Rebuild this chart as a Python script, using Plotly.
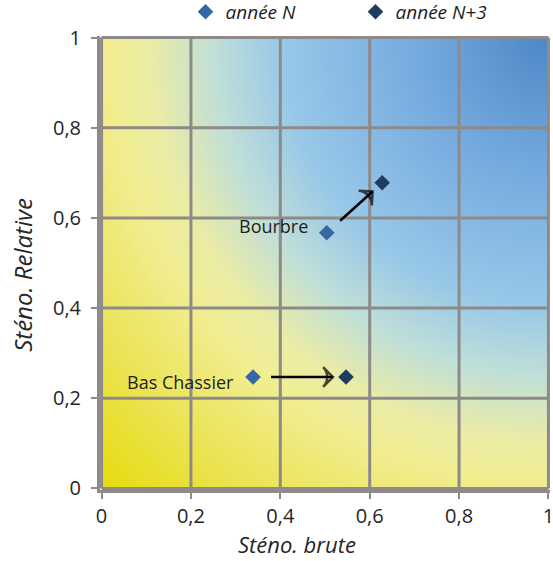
import numpy as np
import plotly.graph_objects as go

# --- data -------------------------------------------------------------
sites = ["Bourbre", "Bas Chassier"]
steno_brute_n = [0.504, 0.339]
steno_rel_n = [0.567, 0.247]
steno_brute_n3 = [0.628, 0.547]
steno_rel_n3 = [0.678, 0.247]

tick_vals = [0, 0.2, 0.4, 0.6, 0.8, 1]
tick_text = ["0", "0,2", "0,4", "0,6", "0,8", "1"]

series_names = ["année N", "année N+3"]
series_colors = ["#3468a5", "#1f3c61"]

# --- layout geometry ----------------------------------------------------
W, H = 553, 561
M_L, M_R, M_T, M_B = 100, 3, 36, 71
PAD = 0.0035
RANGE = [-PAD, 1 + PAD]
px_x = (W - M_L - M_R) / (RANGE[1] - RANGE[0])
px_y = (H - M_T - M_B) / (RANGE[1] - RANGE[0])

GRID = "#8e8a8a"
FONT = "Open Sans"

fig = go.Figure()

# background: yellow in the low corner fading to blue toward (1, 1)
n = 120
g = (np.arange(n) + 0.5) / n
gx, gy = np.meshgrid(g, g)
zbg = 1 - np.hypot(1 - gx, 1 - gy) / np.sqrt(2)
fig.add_trace(go.Heatmap(
    z=zbg, x0=0.5 / n, dx=1 / n, y0=0.5 / n, dy=1 / n,
    zmin=0, zmax=1, zsmooth="best", showscale=False, hoverinfo="skip",
    colorscale=[[0.0, "#e6dc0e"], [0.15, "#ebe352"], [0.3, "#f1ed90"],
                [0.37, "#ebeca6"], [0.47, "#c0dfd8"], [0.58, "#98c8e8"],
                [0.8, "#74a9de"], [1.0, "#4e87c7"]],
))

# grid lines at every tick value
lx, ly = [], []
for t in tick_vals:
    lx += [t, t, None]
    ly += [0, 1, None]
    lx += [0, 1, None]
    ly += [t, t, None]
fig.add_trace(go.Scatter(x=lx, y=ly, mode="lines", showlegend=False,
                         hoverinfo="skip", line=dict(color=GRID, width=3)))

# arrows from year N to year N+3
TAIL_GAP, HEAD_GAP = 18, 13
ax_, ay_, sym, size = [], [], [], []
for x0, y0, x1, y1 in zip(steno_brute_n, steno_rel_n, steno_brute_n3, steno_rel_n3):
    dxp, dyp = (x1 - x0) * px_x, (y1 - y0) * px_y
    L = np.hypot(dxp, dyp)
    f0, f1 = TAIL_GAP / L, 1 - HEAD_GAP / L
    ax_ += [x0 + f0 * (x1 - x0), x0 + f1 * (x1 - x0), None]
    ay_ += [y0 + f0 * (y1 - y0), y0 + f1 * (y1 - y0), None]
    sym += ["circle", "arrow-wide-open", "circle"]
    size += [0, 14, 0]
fig.add_trace(go.Scatter(
    x=ax_, y=ay_, mode="lines+markers", showlegend=False, hoverinfo="skip",
    line=dict(color="#000000", width=2.5),
    marker=dict(symbol=sym, size=size, angleref="previous",
                color="#000000", line=dict(color="#000000", width=2.5)),
))

# the two years
fig.add_trace(go.Scatter(x=steno_brute_n, y=steno_rel_n, mode="markers",
                         name=series_names[0],
                         marker=dict(symbol="diamond", size=12, color=series_colors[0])))
fig.add_trace(go.Scatter(x=steno_brute_n3, y=steno_rel_n3, mode="markers",
                         name=series_names[1],
                         marker=dict(symbol="diamond", size=12, color=series_colors[1])))

# site labels
label_shift = {"Bourbre": (-17, 7), "Bas Chassier": (-17, -5)}
for name, x, y in zip(sites, steno_brute_n, steno_rel_n):
    xs, ys = label_shift[name]
    fig.add_annotation(x=x, y=y, text=name, showarrow=False, xanchor="right",
                       yanchor="middle", xshift=xs, yshift=ys,
                       font=dict(family=FONT, size=18, color="#1e1e1e"))

# axis titles
fig.add_annotation(xref="paper", yref="paper", x=0.437, y=-0.156,
                   text="<i>Sténo. brute</i>", showarrow=False,
                   xanchor="center", yanchor="bottom",
                   font=dict(family=FONT, size=22, color="#262626"))
fig.add_annotation(xref="paper", yref="paper", x=-0.171, y=0.474,
                   text="<i>Sténo. Relative</i>", showarrow=False, textangle=-90,
                   xanchor="center", yanchor="middle",
                   font=dict(family=FONT, size=24, color="#262626"))

axis_common = dict(
    range=RANGE, tickvals=tick_vals, ticktext=tick_text, showgrid=False,
    zeroline=False, showline=True, linecolor=GRID, linewidth=3,
    ticks="outside", ticklen=6, tickwidth=2, tickcolor=GRID,
    ticklabeloverflow="allow",
    tickfont=dict(family=FONT, size=20, color="#262626"),
)
fig.update_xaxes(**axis_common)
fig.update_yaxes(**axis_common, ticklabelstandoff=6)

fig.update_layout(
    width=W, height=H,
    margin=dict(l=M_L, r=M_R, t=M_T, b=M_B, autoexpand=False),
    paper_bgcolor="#ffffff", plot_bgcolor="#ffffff",
    legend=dict(orientation="h", x=0.19, xanchor="left", y=1.053, yanchor="middle",
                entrywidth=125, entrywidthmode="pixels",
                font=dict(family=FONT, size=19, color="#1e1e1e", style="italic"),
                bgcolor="rgba(0,0,0,0)"),
)

fig.write_html("out.html")
